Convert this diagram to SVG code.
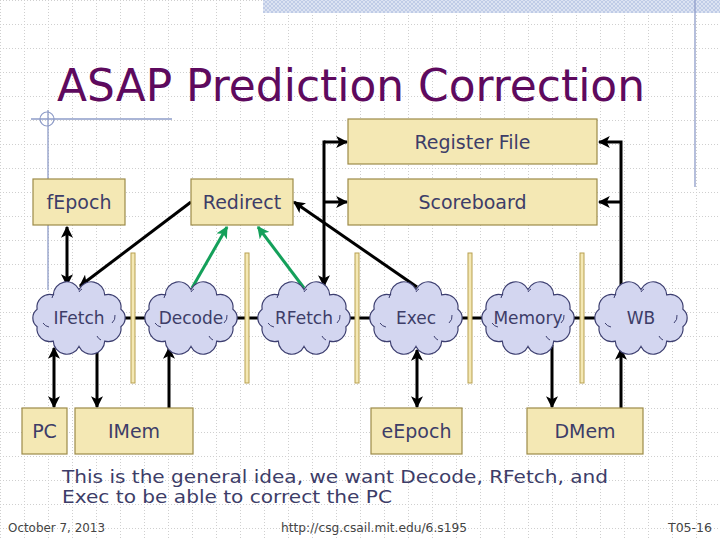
<svg xmlns="http://www.w3.org/2000/svg" width="720" height="540" viewBox="0 0 720 540">
<style>
.box{fill:#F4E8B4;stroke:#9C8A48;stroke-width:1.2}
.lbl{font-family:"DejaVu Sans","Liberation Sans",sans-serif;font-size:19px;fill:#3D3D68;text-anchor:middle}
.clbl{font-family:"DejaVu Sans","Liberation Sans",sans-serif;font-size:17px;fill:#3D3D68;text-anchor:middle}
.cloud{fill:#D3D6F0;stroke:#3D3F70;stroke-width:1.2}
.inner{fill:none;stroke:#3D3F70;stroke-width:1}
.bar{fill:#F4E8B4;stroke:#B8A050;stroke-width:1}
.c{fill:none;stroke:#000;stroke-width:3}
.g{fill:none;stroke:#14A05A;stroke-width:3}
.foot{font-family:"DejaVu Sans","Liberation Sans",sans-serif;font-size:12px;fill:#444}
</style>
<defs>
<pattern id="grid" width="24" height="24" patternUnits="userSpaceOnUse">
<path d="M0,0.5 H24 M0.5,0 V24" fill="none" stroke="#CFCFCF" stroke-width="1" stroke-dasharray="1,2"/>
</pattern>
<pattern id="hatch" width="4" height="4" patternUnits="userSpaceOnUse">
<rect width="4" height="4" fill="#DCE3F2"/>
<path d="M0,4 L4,0 M0,0 L4,4" stroke="#B9C6E4" stroke-width="0.8"/>
</pattern>
<marker id="ah" viewBox="0 0 10 10" refX="9" refY="5" markerWidth="12" markerHeight="12" markerUnits="userSpaceOnUse" orient="auto-start-reverse">
<path d="M0,0 L10,5 L0,10 L2.5,5 z" fill="#000"/>
</marker>
<marker id="ahg" viewBox="0 0 10 10" refX="9" refY="5" markerWidth="12" markerHeight="12" markerUnits="userSpaceOnUse" orient="auto-start-reverse">
<path d="M0,0 L10,5 L0,10 L2.5,5 z" fill="#14A05A"/>
</marker>
<g id="cloudshape">
<path class="cloud" d="M-41.9,-8.7 A13,13 0 0 1 -25.7,-23.2 A13.5,13.5 0 0 1 0,-28.5 A13.5,13.5 0 0 1 25.7,-23.2 A13,13 0 0 1 41.9,-8.7 A11,11 0 0 1 41.9,8.7 A13,13 0 0 1 25.7,23.2 A13.5,13.5 0 0 1 0,28.5 A13.5,13.5 0 0 1 -25.7,23.2 A13,13 0 0 1 -41.9,8.7 A11,11 0 0 1 -41.9,-8.7 z"/>
<path class="inner" d="M-27,-20 a8,8 0 0 1 2,-4 M0,-26 a7,7 0 0 1 3,-3 M36,-3 a9,9 0 0 1 -3,8 M22,22 a8,8 0 0 1 -4,-4 M-36,5 a9,9 0 0 0 6,4"/>
</g>
</defs>

<rect width="720" height="540" fill="#FFFFFF"/>
<rect width="720" height="540" fill="url(#grid)"/>
<rect x="263" y="0" width="457" height="13" fill="url(#hatch)"/>
<line x1="695" y1="0" x2="695" y2="187" stroke="#8E9CC8" stroke-width="1.3"/>
<line x1="31" y1="119" x2="172" y2="119" stroke="#8E9CC8" stroke-width="1.3"/>
<line x1="48" y1="110" x2="48" y2="290" stroke="#8E9CC8" stroke-width="1.3"/>
<circle cx="47" cy="119" r="7" fill="none" stroke="#8E9CC8" stroke-width="1.2"/>

<text x="57" y="101" font-family="DejaVu Sans,Liberation Sans,sans-serif" font-size="44" fill="#5E0A5E" textLength="588" lengthAdjust="spacingAndGlyphs">ASAP Prediction Correction</text>

<g id="connectors">
<line class="c" x1="124" y1="318" x2="600" y2="318"/>
<path class="c" d="M67,227 L67,285" marker-start="url(#ah)" marker-end="url(#ah)"/>
<path class="c" d="M191,202 L80,286" marker-end="url(#ah)"/>
<path class="g" d="M192,288 L227,227" marker-end="url(#ahg)"/>
<path class="g" d="M304,288 L258,227" marker-end="url(#ahg)"/>
<path class="c" d="M417,287 L294,202" marker-end="url(#ah)"/>
<path class="c" d="M324,142 L347,142" marker-end="url(#ah)"/>
<path class="c" d="M324,202 L347,202" marker-end="url(#ah)"/>
<path class="c" d="M324,140.5 L324,286" marker-end="url(#ah)"/>
<path class="c" d="M621,288 L621,142 L599,142" marker-end="url(#ah)"/>
<path class="c" d="M621,202 L599,202" marker-end="url(#ah)"/>
<path class="c" d="M54,348 L54,407" marker-start="url(#ah)" marker-end="url(#ah)"/>
<path class="c" d="M97,343 L97,407" marker-end="url(#ah)"/>
<path class="c" d="M169,408 L169,348" marker-end="url(#ah)"/>
<path class="c" d="M417,350 L417,407" marker-start="url(#ah)" marker-end="url(#ah)"/>
<path class="c" d="M552,345 L552,407" marker-end="url(#ah)"/>
<path class="c" d="M621,408 L621,349" marker-end="url(#ah)"/>
</g>

<g id="pipeline-registers">
<rect class="bar" x="131" y="253" width="4" height="130"/>
<rect class="bar" x="245" y="253" width="4" height="130"/>
<rect class="bar" x="355" y="253" width="4" height="130"/>
<rect class="bar" x="468" y="253" width="4" height="130"/>
<rect class="bar" x="580" y="253" width="4" height="130"/>
</g>

<g id="regfile"><rect class="box" x="348" y="119" width="249" height="45"/><text class="lbl" x="472.5" y="148.5">Register File</text></g>
<g id="scoreboard"><rect class="box" x="348" y="179" width="249" height="46"/><text class="lbl" x="472.5" y="209">Scoreboard</text></g>
<g id="fepoch"><rect class="box" x="33" y="179" width="92" height="46"/><text class="lbl" x="79" y="209">fEpoch</text></g>
<g id="redirect"><rect class="box" x="191" y="179" width="102" height="46"/><text class="lbl" x="242" y="209">Redirect</text></g>
<g id="pc"><rect class="box" x="22" y="408" width="45" height="46"/><text class="lbl" x="44.5" y="438">PC</text></g>
<g id="imem"><rect class="box" x="75" y="408" width="118" height="46"/><text class="lbl" x="134" y="438">IMem</text></g>
<g id="eepoch"><rect class="box" x="371" y="408" width="91" height="46"/><text class="lbl" x="416.5" y="438">eEpoch</text></g>
<g id="dmem"><rect class="box" x="527" y="408" width="116" height="46"/><text class="lbl" x="585" y="438">DMem</text></g>

<g id="ifetch"><use href="#cloudshape" transform="translate(79,318)"/><text class="clbl" x="79" y="324">IFetch</text></g>
<g id="decode"><use href="#cloudshape" transform="translate(191,318)"/><text class="clbl" x="191" y="324">Decode</text></g>
<g id="rfetch"><use href="#cloudshape" transform="translate(304,318)"/><text class="clbl" x="304" y="324">RFetch</text></g>
<g id="exec"><use href="#cloudshape" transform="translate(416,318)"/><text class="clbl" x="416" y="324">Exec</text></g>
<g id="memory"><use href="#cloudshape" transform="translate(528,318)"/><text class="clbl" x="528" y="324">Memory</text></g>
<g id="wb"><use href="#cloudshape" transform="translate(641,318)"/><text class="clbl" x="641" y="324">WB</text></g>

<g id="caption" font-family="DejaVu Sans,Liberation Sans,sans-serif" font-size="18" fill="#3D3D68">
<text x="62" y="483" textLength="546" lengthAdjust="spacingAndGlyphs">This is the general idea, we want Decode, RFetch, and</text>
<text x="62" y="503" textLength="330" lengthAdjust="spacingAndGlyphs">Exec to be able to correct the PC</text>
</g>
<g id="footer">
<text class="foot" x="8" y="532" textLength="97" lengthAdjust="spacingAndGlyphs">October 7, 2013</text>
<text class="foot" x="281" y="532" textLength="186" lengthAdjust="spacingAndGlyphs">http://csg.csail.mit.edu/6.s195</text>
<text class="foot" x="668" y="532" textLength="44" lengthAdjust="spacingAndGlyphs">T05-16</text>
</g>
</svg>
